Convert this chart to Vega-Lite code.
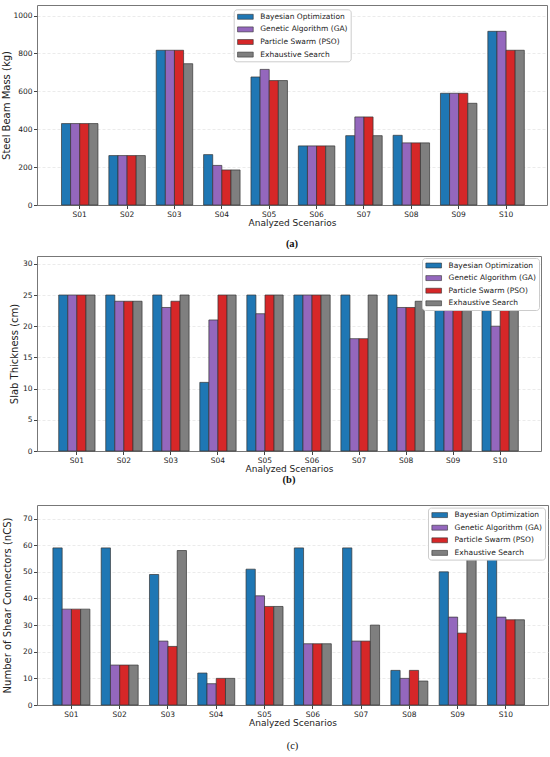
{
  "$schema": "https://vega.github.io/schema/vega-lite/v6.json",
  "background": "white",
  "padding": {"left": 1, "top": 4, "right": 2, "bottom": 2},
  "data": {
    "values": [
      {"scenario": "S01", "method": "Bayesian Optimization", "mass": 430, "thickness": 25, "connectors": 59},
      {"scenario": "S01", "method": "Genetic Algorithm (GA)", "mass": 430, "thickness": 25, "connectors": 36},
      {"scenario": "S01", "method": "Particle Swarm (PSO)", "mass": 430, "thickness": 25, "connectors": 36},
      {"scenario": "S01", "method": "Exhaustive Search", "mass": 430, "thickness": 25, "connectors": 36},
      {"scenario": "S02", "method": "Bayesian Optimization", "mass": 261, "thickness": 25, "connectors": 59},
      {"scenario": "S02", "method": "Genetic Algorithm (GA)", "mass": 261, "thickness": 24, "connectors": 15},
      {"scenario": "S02", "method": "Particle Swarm (PSO)", "mass": 261, "thickness": 24, "connectors": 15},
      {"scenario": "S02", "method": "Exhaustive Search", "mass": 261, "thickness": 24, "connectors": 15},
      {"scenario": "S03", "method": "Bayesian Optimization", "mass": 817, "thickness": 25, "connectors": 49},
      {"scenario": "S03", "method": "Genetic Algorithm (GA)", "mass": 817, "thickness": 23, "connectors": 24},
      {"scenario": "S03", "method": "Particle Swarm (PSO)", "mass": 817, "thickness": 24, "connectors": 22},
      {"scenario": "S03", "method": "Exhaustive Search", "mass": 746, "thickness": 25, "connectors": 58},
      {"scenario": "S04", "method": "Bayesian Optimization", "mass": 266, "thickness": 11, "connectors": 12},
      {"scenario": "S04", "method": "Genetic Algorithm (GA)", "mass": 209, "thickness": 21, "connectors": 8},
      {"scenario": "S04", "method": "Particle Swarm (PSO)", "mass": 185, "thickness": 25, "connectors": 10},
      {"scenario": "S04", "method": "Exhaustive Search", "mass": 185, "thickness": 25, "connectors": 10},
      {"scenario": "S05", "method": "Bayesian Optimization", "mass": 676, "thickness": 25, "connectors": 51},
      {"scenario": "S05", "method": "Genetic Algorithm (GA)", "mass": 716, "thickness": 22, "connectors": 41},
      {"scenario": "S05", "method": "Particle Swarm (PSO)", "mass": 657, "thickness": 25, "connectors": 37},
      {"scenario": "S05", "method": "Exhaustive Search", "mass": 657, "thickness": 25, "connectors": 37},
      {"scenario": "S06", "method": "Bayesian Optimization", "mass": 312, "thickness": 25, "connectors": 59},
      {"scenario": "S06", "method": "Genetic Algorithm (GA)", "mass": 312, "thickness": 25, "connectors": 23},
      {"scenario": "S06", "method": "Particle Swarm (PSO)", "mass": 312, "thickness": 25, "connectors": 23},
      {"scenario": "S06", "method": "Exhaustive Search", "mass": 312, "thickness": 25, "connectors": 23},
      {"scenario": "S07", "method": "Bayesian Optimization", "mass": 366, "thickness": 25, "connectors": 59},
      {"scenario": "S07", "method": "Genetic Algorithm (GA)", "mass": 465, "thickness": 18, "connectors": 24},
      {"scenario": "S07", "method": "Particle Swarm (PSO)", "mass": 465, "thickness": 18, "connectors": 24},
      {"scenario": "S07", "method": "Exhaustive Search", "mass": 366, "thickness": 25, "connectors": 30},
      {"scenario": "S08", "method": "Bayesian Optimization", "mass": 368, "thickness": 25, "connectors": 13},
      {"scenario": "S08", "method": "Genetic Algorithm (GA)", "mass": 328, "thickness": 23, "connectors": 10},
      {"scenario": "S08", "method": "Particle Swarm (PSO)", "mass": 328, "thickness": 23, "connectors": 13},
      {"scenario": "S08", "method": "Exhaustive Search", "mass": 328, "thickness": 24, "connectors": 9},
      {"scenario": "S09", "method": "Bayesian Optimization", "mass": 590, "thickness": 25, "connectors": 50},
      {"scenario": "S09", "method": "Genetic Algorithm (GA)", "mass": 590, "thickness": 25, "connectors": 33},
      {"scenario": "S09", "method": "Particle Swarm (PSO)", "mass": 590, "thickness": 25, "connectors": 27},
      {"scenario": "S09", "method": "Exhaustive Search", "mass": 537, "thickness": 25, "connectors": 57},
      {"scenario": "S10", "method": "Bayesian Optimization", "mass": 917, "thickness": 25, "connectors": 60},
      {"scenario": "S10", "method": "Genetic Algorithm (GA)", "mass": 917, "thickness": 20, "connectors": 33},
      {"scenario": "S10", "method": "Particle Swarm (PSO)", "mass": 817, "thickness": 24, "connectors": 32},
      {"scenario": "S10", "method": "Exhaustive Search", "mass": 817, "thickness": 24, "connectors": 32}
    ]
  },
  "vconcat": [
    {
      "width": 510,
      "height": 200,
      "title": {"text": "(a)", "orient": "bottom", "offset": 11},
      "mark": {"type": "bar", "stroke": "#333", "strokeWidth": 0.7},
      "encoding": {
        "x": {"field": "scenario", "type": "nominal", "title": "Analyzed Scenarios",
              "scale": {"paddingInner": 0.23, "paddingOuter": 0.498, "align": 0.519},
              "axis": {"labelAngle": 0}},
        "xOffset": {"field": "method", "type": "nominal",
                    "sort": ["Bayesian Optimization", "Genetic Algorithm (GA)", "Particle Swarm (PSO)", "Exhaustive Search"],
                    "scale": {"paddingInner": 0, "paddingOuter": 0}},
        "y": {"field": "mass", "type": "quantitative", "title": "Steel Beam Mass (kg)",
              "scale": {"domain": [0, 1056], "nice": false},
              "axis": {"values": [0, 200, 400, 600, 800, 1000], "format": "d", "titlePadding": 1}},
        "color": {"field": "method", "type": "nominal", "title": null,
                  "scale": {"domain": ["Bayesian Optimization", "Genetic Algorithm (GA)", "Particle Swarm (PSO)", "Exhaustive Search"],
                            "range": ["#1f77b4", "#9467bd", "#d62728", "#7f7f7f"]},
                  "legend": {"orient": "none", "legendX": 196.7, "legendY": 4.3}}
      }
    },
    {
      "width": 504,
      "height": 195,
      "title": {"text": ["(b)", ""], "orient": "bottom", "offset": 1, "lineHeight": 13},
      "mark": {"type": "bar", "stroke": "#333", "strokeWidth": 0.7},
      "encoding": {
        "x": {"field": "scenario", "type": "nominal", "title": "Analyzed Scenarios",
              "scale": {"paddingInner": 0.228, "paddingOuter": 0.472, "align": 0.489},
              "axis": {"labelAngle": 0}},
        "xOffset": {"field": "method", "type": "nominal",
                    "sort": ["Bayesian Optimization", "Genetic Algorithm (GA)", "Particle Swarm (PSO)", "Exhaustive Search"],
                    "scale": {"paddingInner": 0, "paddingOuter": 0}},
        "y": {"field": "thickness", "type": "quantitative", "title": "Slab Thickness (cm)",
              "scale": {"domain": [0, 31.25], "nice": false},
              "axis": {"values": [0, 5, 10, 15, 20, 25, 30], "titlePadding": 2.5}},
        "color": {"field": "method", "type": "nominal", "title": null,
                  "scale": {"domain": ["Bayesian Optimization", "Genetic Algorithm (GA)", "Particle Swarm (PSO)", "Exhaustive Search"],
                            "range": ["#1f77b4", "#9467bd", "#d62728", "#7f7f7f"]},
                  "legend": {"orient": "none", "legendX": 385, "legendY": 2}}
      }
    },
    {
      "width": 511,
      "height": 200,
      "title": {"text": "(c)", "orient": "bottom", "offset": 13, "fontWeight": "normal"},
      "mark": {"type": "bar", "stroke": "#333", "strokeWidth": 0.7},
      "encoding": {
        "x": {"field": "scenario", "type": "nominal", "title": "Analyzed Scenarios",
              "scale": {"paddingInner": 0.234, "paddingOuter": 0.409, "align": 0.403},
              "axis": {"labelAngle": 0}},
        "xOffset": {"field": "method", "type": "nominal",
                    "sort": ["Bayesian Optimization", "Genetic Algorithm (GA)", "Particle Swarm (PSO)", "Exhaustive Search"],
                    "scale": {"paddingInner": 0, "paddingOuter": 0}},
        "y": {"field": "connectors", "type": "quantitative", "title": "Number of Shear Connectors (nCS)",
              "scale": {"domain": [0, 75.1], "nice": false},
              "axis": {"values": [0, 10, 20, 30, 40, 50, 60, 70], "titlePadding": 9.5}},
        "color": {"field": "method", "type": "nominal", "title": null,
                  "scale": {"domain": ["Bayesian Optimization", "Genetic Algorithm (GA)", "Particle Swarm (PSO)", "Exhaustive Search"],
                            "range": ["#1f77b4", "#9467bd", "#d62728", "#7f7f7f"]},
                  "legend": {"orient": "none", "legendX": 391, "legendY": 2.6}}
      }
    }
  ],
  "spacing": 5,
  "resolve": {
    "scale": {"x": "independent", "xOffset": "independent", "y": "independent", "color": "independent"},
    "legend": {"color": "independent"}
  },
  "config": {
    "font": "DejaVu Sans",
    "view": {"stroke": "#777", "strokeWidth": 1},
    "title": {"font": "Liberation Serif", "fontSize": 10.5, "fontWeight": "bold", "color": "#111", "lineHeight": 11},
    "axis": {
      "labelFont": "DejaVu Sans",
      "titleFont": "DejaVu Sans",
      "labelFontSize": 7.5,
      "titleFontSize": 9,
      "titleFontWeight": "normal",
      "labelColor": "#222",
      "titleColor": "#222",
      "tickColor": "#444",
      "tickSize": 3.5,
      "domain": false,
      "labelPadding": 1.5,
      "titlePadding": 1
    },
    "axisX": {"grid": false},
    "axisY": {
      "titleFontSize": 10,
      "grid": true,
      "gridColor": "#ddd",
      "gridDash": [3, 2],
      "gridWidth": 0.6,
      "gridOpacity": {"condition": {"test": "datum.value === 0", "value": 0}, "value": 1}
    },
    "legend": {
      "fillColor": "white",
      "strokeColor": "#ccc",
      "cornerRadius": 3,
      "padding": 3,
      "symbolType": "M-1.96,-0.62H1.96V0.62H-1.96Z",
      "symbolSize": 64,
      "symbolOffset": 4.2,
      "symbolStrokeColor": "#333",
      "symbolStrokeWidth": 0.6,
      "symbolOpacity": 1,
      "labelFont": "DejaVu Sans",
      "labelFontSize": 7.5,
      "labelColor": "#222",
      "labelOffset": 10.4,
      "rowPadding": 3.6
    }
  }
}
